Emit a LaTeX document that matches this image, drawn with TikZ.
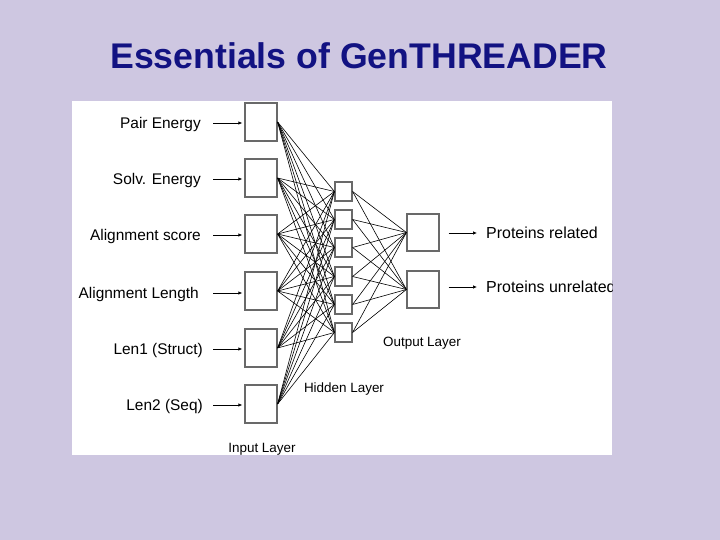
\documentclass[tikz,border=0pt]{standalone}
\usepackage{fontspec}
\setmainfont{Liberation Sans}
\usetikzlibrary{arrows.meta}
\definecolor{slidebg}{RGB}{206,199,225}
\definecolor{titleblue}{RGB}{18,18,130}
\definecolor{boxgray}{RGB}{105,105,105}
\tikzset{
  unit/.style={draw=boxgray, line width=1.2bp, fill=white, inner sep=0pt},
  inunit/.style={unit, minimum width=32bp, minimum height=38bp},
  hidunit/.style={unit, minimum width=17bp, minimum height=19bp},
  feat/.style={font=\fontsize{15.5}{18}\selectfont, inner sep=0pt, text height=11bp, text depth=0pt},
  layer/.style={font=\fontsize{13.5}{16}\selectfont, inner sep=0pt, text height=10bp, text depth=0pt},
  link/.style={line width=0.6bp, black},
  feed/.style={-{Latex[length=4bp,width=3.5bp]}, line width=0.7bp}
}
\newcommand\layername[1]{#1 Layer}

\begin{document}
\begin{tikzpicture}[x=1bp, y=-1bp]
  \fill[slidebg] (0,0) rectangle (720,540);
  \useasboundingbox (0,0) rectangle (720,540);
  \node[font=\fontsize{35.8}{40}\selectfont\bfseries, text=titleblue, anchor=base] (title) at (359,69) {Essentials of GenTHREADER};
  \fill[white] (72,101) rectangle (612,455);

  % input layer
  \node[inunit] (in1) at (261,122) {};
  \node[inunit] (in2) at (261,178) {};
  \node[inunit] (in3) at (261,234) {};
  \node[inunit] (in4) at (261,291) {};
  \node[inunit] (in5) at (261,348) {};
  \node[inunit] (in6) at (261,404) {};

  % hidden layer
  \node[hidunit] (hid1) at (343.5,191.5) {};
  \node[hidunit] (hid2) at (343.5,219.5) {};
  \node[hidunit] (hid3) at (343.5,247.5) {};
  \node[hidunit] (hid4) at (343.5,276.5) {};
  \node[hidunit] (hid5) at (343.5,304.5) {};
  \node[hidunit] (hid6) at (343.5,332.5) {};

  % output layer
  \node[inunit, minimum height=37bp] (out1) at (423,232.5) {};
  \node[inunit, minimum height=37bp] (out2) at (423,289.5) {};

  \foreach \i in {1,...,6}
    \foreach \j in {1,...,6}
      \draw[link] (in\i.east) -- (hid\j.west);
  \foreach \j in {1,...,6}
    \foreach \k in {1,2}
      \draw[link] (hid\j.east) -- (out\k.west);

  % inputs
  \node[feat, anchor=east] (f1) at (201,123) {Pair Energy};
  \node[feat, anchor=east] (f2) at (201,179) {Solv. Energy};
  \node[feat, anchor=east] (f3) at (201,235) {Alignment score};
  \node[feat, anchor=east] (f4) at (199,293) {Alignment Length};
  \node[feat, anchor=east] (f5) at (203,349) {Len1 (Struct)};
  \node[feat, anchor=east] (f6) at (203,405) {Len2 (Seq)};
  \draw[feed] ([xshift=12bp]f1.east) -- ([xshift=-2bp]in1.west |- f1.east);
  \draw[feed] ([xshift=12bp]f2.east) -- ([xshift=-2bp]in2.west |- f2.east);
  \draw[feed] ([xshift=12bp]f3.east) -- ([xshift=-2bp]in3.west |- f3.east);
  \draw[feed] ([xshift=14bp]f4.east) -- ([xshift=-2bp]in4.west |- f4.east);
  \draw[feed] ([xshift=10bp]f5.east) -- ([xshift=-2bp]in5.west |- f5.east);
  \draw[feed] ([xshift=10bp]f6.east) -- ([xshift=-2bp]in6.west |- f6.east);

  % outputs
  \begin{scope}
    \clip (72,101) rectangle (612,455);
    \node[feat, font=\fontsize{16}{18}\selectfont, anchor=west] (r1) at (486,233) {Proteins related};
    \node[feat, font=\fontsize{16}{18}\selectfont, anchor=west] (r2) at (486,287) {Proteins unrelated};
  \end{scope}
  \draw[feed] ([xshift=9bp]out1.east |- r1.west) -- ([xshift=-9bp]r1.west);
  \draw[feed] ([xshift=9bp]out2.east |- r2.west) -- ([xshift=-9bp]r2.west);

  \node[layer] (lin) at (262,447) {\layername{Input}};
  \node[layer] (lhid) at (344,387) {\layername{Hidden}};
  \node[layer] (lout) at (422,341) {\layername{Output}};
\end{tikzpicture}
\end{document}
